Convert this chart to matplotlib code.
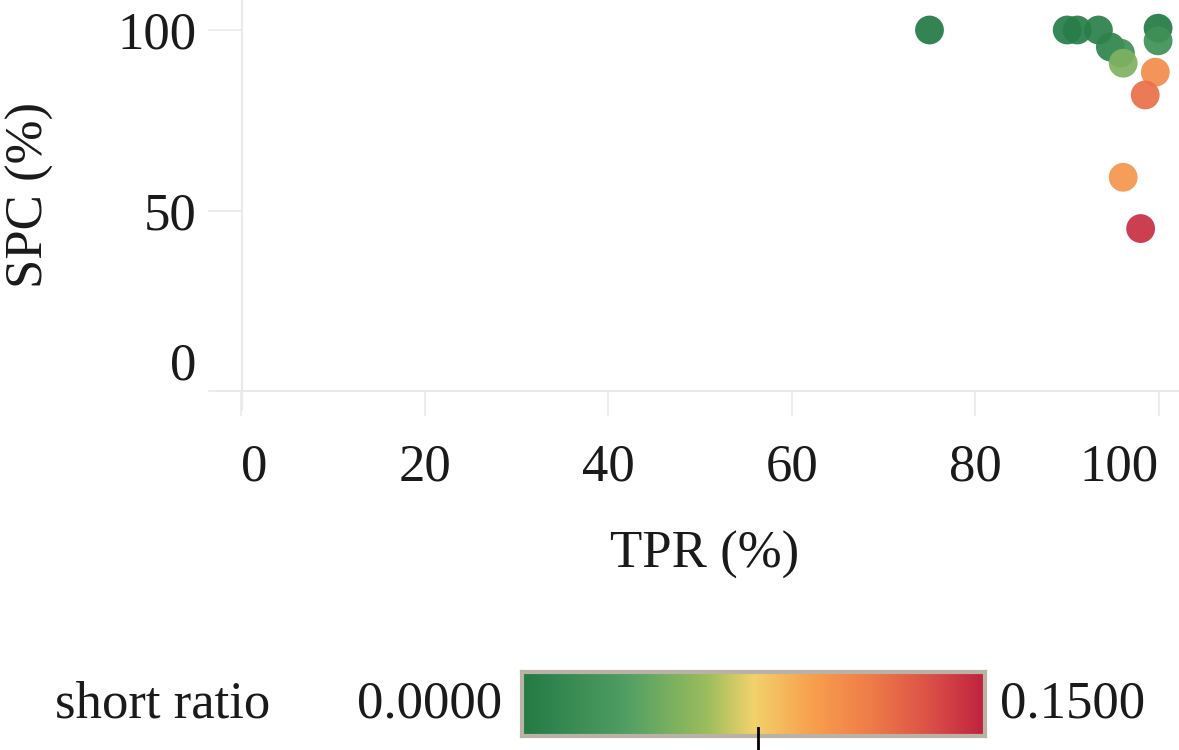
import numpy as np
import matplotlib
matplotlib.use('Agg')
import matplotlib.pyplot as plt
from matplotlib.colors import LinearSegmentedColormap, Normalize
from matplotlib.lines import Line2D

# ── Data ──────────────────────────────────────────────────────────────────────
tpr = [75.0, 90.0, 91.1, 93.4, 94.7, 95.8, 96.1, 99.9, 99.9, 99.6, 98.5, 96.1, 98.0]
spc = [100.0, 100.0, 100.0, 100.0, 95.3, 93.6, 90.8, 100.5, 97.0, 88.3, 82.0, 59.2, 45.0]
short_ratio = [0.0, 0.003, 0.003, 0.005, 0.008, 0.02, 0.05, 0.0, 0.02, 0.105, 0.118, 0.10, 0.145]

x_ticks = [0, 20, 40, 60, 80, 100]
y_ticks = [0, 50, 100]
cbar_min, cbar_max = 0.0, 0.15
cbar_mark = 0.0765

# ── Style ─────────────────────────────────────────────────────────────────────
W, H = 1179, 750
FONT = 'Liberation Serif'
FS = 38
TXT = '#1a1a1a'
DOMAIN = '#e9e9e9'

cmap = LinearSegmentedColormap.from_list('short', [
    (0.00, '#237a44'), (0.22, '#4f9e63'), (0.40, '#9cbd5d'),
    (0.50, '#f2d26c'), (0.62, '#f8a24e'), (0.76, '#ee7a48'),
    (0.88, '#dc5147'), (1.00, '#bf223f')])
norm = Normalize(cbar_min, cbar_max)

plt.rcParams['font.family'] = [FONT, 'DejaVu Serif']

fig = plt.figure(figsize=(W / 100, H / 100), dpi=100)

def px(x0, y0, x1, y1):
    # pixel box (top-left origin) -> figure rect
    return [x0 / W, 1 - y1 / H, (x1 - x0) / W, (y1 - y0) / H]

ax = fig.add_axes(px(241, 30, 1159, 391))
ax.set_xlim(0, 100)
ax.set_ylim(0, 100)
for s in ax.spines.values():
    s.set_visible(False)

ax.scatter(tpr, spc, c=short_ratio, cmap=cmap, norm=norm, s=430,
           linewidths=0, alpha=0.92, clip_on=False, zorder=5)

ax.set_xticks(x_ticks)
ax.set_yticks(y_ticks)
ax.tick_params(axis='x', length=18, width=1.2, color=DOMAIN, pad=20,
               labelsize=FS, labelcolor=TXT)
ax.tick_params(axis='y', length=24, width=1.2, color=DOMAIN, pad=8,
               labelsize=FS, labelcolor=TXT)
xl = ax.get_xticklabels()
xl[0].set_ha('left')
xl[-1].set_ha('right')
ax.get_yticklabels()[0].set_va('bottom')

# domain lines (offset like the original)
fig.add_artist(Line2D([241.5 / W, 241.5 / W], [1, 1 - 409 / H], color=DOMAIN, lw=1.5))
fig.add_artist(Line2D([217 / W, 1], [1 - 391 / H, 1 - 391 / H], color=DOMAIN, lw=1.5))

fig.text(705 / W, 1 - 555 / H, 'TPR (%)', ha='center', va='center',
         fontsize=FS, color=TXT)
fig.text(30 / W, 1 - 195 / H, 'SPC (%)', ha='center', va='center',
         rotation=90, fontsize=FS, color=TXT)

# ── Colour legend ─────────────────────────────────────────────────────────────
cax = fig.add_axes(px(522, 672, 985, 736))
grad = np.linspace(cbar_min, cbar_max, 256).reshape(1, -1)
cax.imshow(grad, cmap=cmap, norm=norm, aspect='auto',
           extent=[cbar_min, cbar_max, 0, 1])
cax.plot([cbar_mark, cbar_mark], [-0.22, 0.12], color='black', lw=2,
         clip_on=False, zorder=6)
cax.set_xlim(cbar_min, cbar_max)
cax.set_ylim(0, 1)
cax.set_xticks([])
cax.set_yticks([])
for s in cax.spines.values():
    s.set_color('#b9b3a6')
    s.set_linewidth(3)

fig.text(55 / W, 1 - 705 / H, 'short ratio', ha='left', va='center',
         fontsize=FS, color=TXT)
fig.text(502 / W, 1 - 705 / H, f'{cbar_min:.4f}', ha='right', va='center',
         fontsize=FS, color=TXT)
fig.text(1000 / W, 1 - 705 / H, f'{cbar_max:.4f}', ha='left', va='center',
         fontsize=FS, color=TXT)

fig.savefig('out.png', dpi=100)
